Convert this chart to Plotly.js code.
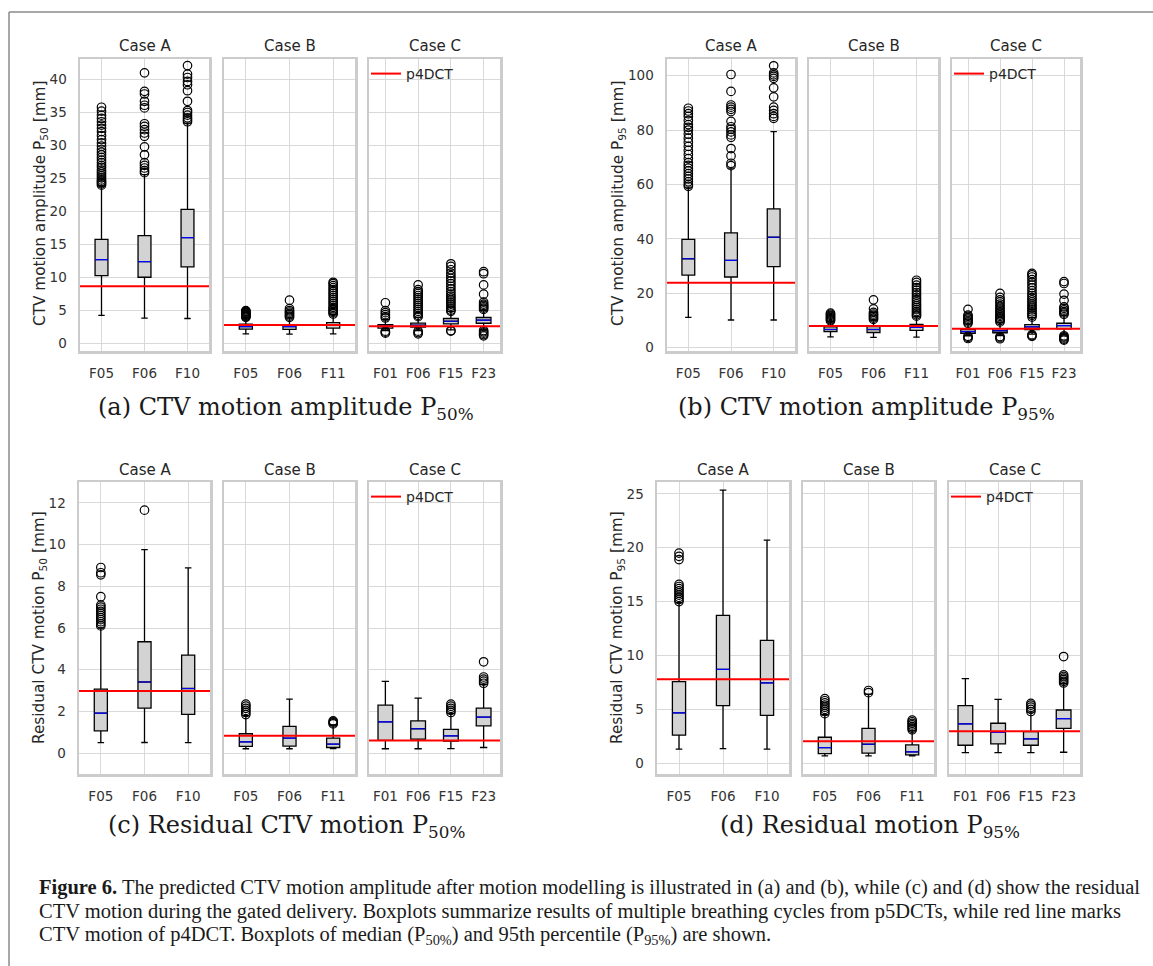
<!DOCTYPE html>
<html>
<head>
<meta charset="utf-8">
<script src="https://cdn.plot.ly/plotly-3.0.1.min.js"></script>
<style>
  html, body { margin: 0; padding: 0; background: #ffffff; }
  #chart { width: 1153px; height: 966px; }
</style>
</head>
<body>
<div id="chart"></div>
<script>
// ---------------- DATA ----------------
const caseNames = ['Case A', 'Case B', 'Case C'];
const labelsA = ['F05', 'F06', 'F10'];
const labelsB = ['F05', 'F06', 'F11'];
const labelsC = ['F01', 'F06', 'F15', 'F23'];
// Every statistic array lists the boxes in order: Case A (3), Case B (3), Case C (4)

// (a) CTV motion amplitude P50
const a_q1  = [10.3, 10.06, 11.62, 2.21, 2.16, 2.36, 2.36, 2.5, 3.0, 3.1];
const a_med = [12.73, 12.43, 16.05, 2.6, 2.6, 2.8, 2.67, 2.8, 3.4, 3.57];
const a_q3  = [15.8, 16.35, 20.33, 2.97, 2.9, 3.2, 2.9, 3.12, 3.82, 3.97];
const a_lo  = [4.28, 3.87, 3.82, 1.5, 1.46, 1.5, 2.0, 2.0, 2.1, 2.1];
const a_hi  = [23.9, 25.6, 33.4, 3.9, 3.9, 4.4, 3.7, 4.0, 4.9, 5.1];
const a_out = [
  [24.0, 24.2, 24.4, 24.6, 24.8, 25.1, 25.4, 25.7, 26.0, 26.3, 26.7, 27.0, 27.4, 27.8, 28.2, 28.6, 29.0, 29.4, 29.9, 30.4, 30.9, 31.5, 32.1, 32.6, 33.1, 33.6, 34.1, 34.6, 35.2, 35.8],
  [25.9, 26.2, 26.6, 27.0, 27.4, 28.6, 29.8, 31.4, 31.9, 32.4, 32.9, 33.3, 35.7, 36.1, 36.7, 37.8, 38.2, 41.0],
  [33.6, 33.9, 34.2, 34.6, 35.0, 35.3, 36.7, 38.3, 39.2, 39.7, 40.3, 40.8, 42.1],
  [4.0, 4.1, 4.2, 4.3, 4.4, 4.5, 4.6, 4.7, 4.8, 4.9, 5.0],
  [4.0, 4.2, 4.4, 4.6, 4.8, 5.0, 5.3, 6.6],
  [4.5, 4.7, 4.9, 5.1, 5.3, 5.5, 5.8, 6.1, 6.4, 6.7, 7.0, 7.3, 7.6, 7.9, 8.2, 8.5, 8.8, 9.1, 9.3],
  [1.6, 1.75, 1.9, 3.9, 4.1, 4.4, 4.7, 5.0, 6.2],
  [1.5, 1.7, 1.9, 4.1, 4.3, 4.6, 4.9, 5.2, 5.5, 5.8, 6.1, 6.4, 6.7, 7.0, 7.3, 7.6, 7.9, 8.2, 8.9],
  [1.9, 2.0, 4.9, 5.1, 5.4, 5.7, 6.0, 6.3, 6.6, 6.9, 7.2, 7.5, 7.9, 8.3, 8.7, 9.1, 9.5, 9.9, 10.3, 10.7, 11.2, 11.7, 12.1],
  [1.2, 1.4, 1.6, 1.8, 2.0, 5.2, 5.4, 5.6, 5.8, 6.0, 6.3, 7.5, 8.9, 10.6, 10.9]
];
const a_p4dct = [8.7, 2.85, 2.65];

// (b) CTV motion amplitude P95
const b_q1  = [26.7, 26.0, 29.8, 5.9, 5.6, 6.4, 5.3, 5.5, 6.7, 6.9];
const b_med = [32.7, 32.1, 40.6, 6.7, 6.7, 7.5, 5.9, 6.25, 7.7, 8.1];
const b_q3  = [39.8, 42.2, 51.0, 7.7, 7.8, 8.6, 6.7, 7.0, 8.5, 9.0];
const b_lo  = [11.15, 10.2, 10.2, 4.0, 3.8, 3.9, 4.4, 4.5, 5.0, 5.0];
const b_hi  = [59.0, 66.0, 79.4, 9.7, 10.2, 11.4, 8.8, 9.2, 11.1, 12.0];
const b_out = [
  [59.3, 60.0, 61.0, 62.0, 63.0, 64.0, 65.0, 66.0, 67.0, 68.0, 69.5, 71.0, 72.5, 74.0, 75.5, 77.0, 78.5, 80.0, 81.0, 82.0, 83.5, 85.0, 86.0, 87.0, 88.0],
  [66.9, 67.8, 70.5, 73.2, 77.3, 78.2, 79.3, 80.3, 81.2, 83.2, 86.8, 87.6, 88.4, 89.2, 94.2, 100.4],
  [84.3, 85.0, 86.0, 87.2, 88.4, 92.2, 95.5, 99.0, 99.7, 100.3, 101.0, 103.6],
  [9.9, 10.3, 10.7, 11.1, 11.5, 11.9, 12.3, 12.7],
  [10.4, 10.9, 11.4, 11.9, 12.4, 13.0, 14.3, 17.6],
  [11.6, 12.1, 12.7, 13.3, 14.0, 14.7, 15.4, 16.1, 16.9, 17.7, 18.5, 19.4, 20.3, 21.2, 22.1, 23.0, 24.0, 24.8],
  [3.4, 3.8, 4.2, 9.0, 9.5, 10.0, 10.5, 11.0, 11.5, 12.0, 14.1],
  [3.3, 3.7, 4.1, 9.5, 10.0, 10.5, 11.0, 11.5, 12.0, 12.6, 13.2, 13.8, 14.5, 15.2, 16.0, 16.8, 17.6, 18.5, 20.0],
  [4.2, 4.5, 4.8, 11.3, 11.9, 12.5, 13.2, 13.9, 14.6, 15.3, 16.0, 16.8, 17.6, 18.4, 19.2, 20.0, 21.0, 22.0, 23.0, 24.0, 25.0, 26.0, 26.8, 27.3],
  [2.8, 3.2, 3.6, 4.0, 4.4, 12.3, 12.8, 13.3, 13.9, 14.5, 15.0, 17.4, 19.7, 23.6, 24.3]
];
const b_p4dct = [23.9, 8.0, 7.0];

// (c) Residual CTV motion P50
const c_q1  = [1.07, 2.16, 1.86, 0.32, 0.34, 0.27, 0.61, 0.67, 0.58, 1.31];
const c_med = [1.92, 3.41, 3.1, 0.54, 0.72, 0.43, 1.5, 1.17, 0.83, 1.73];
const c_q3  = [3.07, 5.34, 4.7, 0.93, 1.28, 0.72, 2.3, 1.55, 1.14, 2.16];
const c_lo  = [0.5, 0.51, 0.5, 0.21, 0.21, 0.22, 0.21, 0.21, 0.22, 0.27];
const c_hi  = [6.0, 9.76, 8.88, 1.8, 2.59, 1.35, 3.44, 2.64, 1.9, 3.3];
const c_out = [
  [6.1, 6.2, 6.3, 6.4, 6.5, 6.6, 6.7, 6.8, 6.9, 7.0, 7.1, 7.5, 8.55, 8.65, 8.9],
  [11.65],
  [],
  [1.85, 1.95, 2.05, 2.15, 2.25, 2.35],
  [],
  [1.4, 1.45, 1.5, 1.55],
  [],
  [],
  [1.95, 2.05, 2.15, 2.25, 2.35],
  [3.35, 3.45, 3.55, 3.65, 4.38]
];
const c_p4dct = [2.98, 0.83, 0.61];

// (d) Residual motion P95
const d_q1  = [2.6, 5.35, 4.45, 0.9, 0.93, 0.77, 1.67, 1.79, 1.67, 3.24];
const d_med = [4.67, 8.71, 7.45, 1.45, 1.76, 1.05, 3.65, 2.87, 2.26, 4.14];
const d_q3  = [7.57, 13.72, 11.4, 2.41, 3.24, 1.7, 5.35, 3.71, 2.94, 4.94];
const d_lo  = [1.3, 1.36, 1.3, 0.68, 0.68, 0.68, 0.99, 0.99, 0.99, 1.02];
const d_hi  = [14.9, 25.34, 20.7, 4.5, 6.4, 3.0, 7.85, 5.93, 4.75, 7.4];
const d_out = [
  [15.0, 15.2, 15.4, 15.6, 15.8, 16.0, 16.2, 16.4, 16.6, 18.9, 19.2, 19.5],
  [],
  [],
  [4.6, 4.8, 5.0, 5.2, 5.4, 5.6, 5.8, 6.0],
  [6.55, 6.75],
  [3.1, 3.25, 3.4, 3.55, 3.7, 3.85, 4.0],
  [],
  [],
  [4.8, 5.0, 5.2, 5.4, 5.55],
  [7.45, 7.6, 7.75, 7.9, 8.05, 8.2, 9.9]
];
const d_p4dct = [7.79, 2.04, 2.97];

const legendName = 'p4DCT';
const figureCaptionLines = [
  '<b>Figure 6.</b> The predicted CTV motion amplitude after motion modelling is illustrated in (a) and (b), while (c) and (d) show the residual',
  'CTV motion during the gated delivery. Boxplots summarize results of multiple breathing cycles from p5DCTs, while red line marks',
  'CTV motion of p4DCT. Boxplots of median (P<sub>50%</sub>) and 95th percentile (P<sub>95%</sub>) are shown.'
];

// ---------------- LAYOUT CONFIG ----------------
const W = 1153, H = 966;
const px = v => v / W;
const py = v => 1 - v / H;
const caseLabels = [labelsA, labelsB, labelsC];

const panels = [
  { stats: [a_q1, a_med, a_q3, a_lo, a_hi], out: a_out, p4: a_p4dct,
    range: [-1.1, 43.1], dtick: 5,
    ytitle: 'CTV motion amplitude P<sub>50</sub> [mm]',
    caption: '(a) CTV motion amplitude P<sub>50%</sub>',
    xdom: [[80, 209], [224, 355], [369, 500]], ydom: [59, 351],
    titleY: 46, ytitleX: 41, ytitleY: 204, capX: 286, capY: 408 },
  { stats: [b_q1, b_med, b_q3, b_lo, b_hi], out: b_out, p4: b_p4dct,
    range: [-1.2, 106.1], dtick: 20,
    ytitle: 'CTV motion amplitude P<sub>95</sub> [mm]',
    caption: '(b) CTV motion amplitude P<sub>95%</sub>',
    xdom: [[667, 795], [809, 938], [952, 1080]], ydom: [59, 351],
    titleY: 46, ytitleX: 619, ytitleY: 204, capX: 866, capY: 408 },
  { stats: [c_q1, c_med, c_q3, c_lo, c_hi], out: c_out, p4: c_p4dct,
    range: [-1.0, 13.0], dtick: 2,
    ytitle: 'Residual CTV motion P<sub>50</sub> [mm]',
    caption: '(c) Residual CTV motion P<sub>50%</sub>',
    xdom: [[79, 210], [224, 355], [369, 500]], ydom: [482, 774],
    titleY: 470, ytitleX: 40, ytitleY: 628, capX: 286, capY: 826 },
  { stats: [d_q1, d_med, d_q3, d_lo, d_hi], out: d_out, p4: d_p4dct,
    range: [-1.0, 26.1], dtick: 5,
    ytitle: 'Residual CTV motion P<sub>95</sub> [mm]',
    caption: '(d) Residual motion P<sub>95%</sub>',
    xdom: [[657, 789], [803, 934], [949, 1080]], ydom: [482, 774],
    titleY: 470, ytitleX: 618, ytitleY: 628, capX: 870, capY: 826 }
];

const sans = 'DejaVu Sans, Noto Sans, sans-serif';
const tickFont = { family: sans, size: 13.5, color: '#333333' };
const gridColor = '#d9d9d9';
const frameColor = '#cccccc';

const traces = [];
const layout = {
  width: W, height: H,
  margin: { l: 0, r: 0, t: 0, b: 0 },
  paper_bgcolor: '#ffffff', plot_bgcolor: '#ffffff',
  boxmode: 'overlay',
  showlegend: true,
  annotations: [], shapes: []
};

const caseStart = [0, 3, 6];

panels.forEach((p, pi) => {
  for (let ci = 0; ci < 3; ci++) {
    const n = pi * 3 + ci + 1;
    const xa = 'x' + n, ya = 'y' + n;
    const labels = caseLabels[ci];
    const pos = labels.map((_, i) => i + 1);
    const s0 = caseStart[ci], s1 = s0 + labels.length;
    const sl = arr => arr.slice(s0, s1);
    const q1 = sl(p.stats[0]), med = sl(p.stats[1]), q3 = sl(p.stats[2]);
    const lo = sl(p.stats[3]), hi = sl(p.stats[4]);
    const outs = p.out.slice(s0, s1);
    const bw = labels.length === 4 ? 0.45 : 0.3;
    const xr = [0.5, labels.length + 0.5];

    // boxes
    traces.push({
      type: 'box', orientation: 'v', xaxis: xa, yaxis: ya,
      x: pos, q1: q1, median: med, q3: q3, lowerfence: lo, upperfence: hi,
      width: bw, whiskerwidth: 0.5, boxpoints: false,
      fillcolor: '#d3d3d3', line: { color: '#000000', width: 1.3 },
      hoverinfo: 'skip', showlegend: false
    });
    // blue median lines
    traces.push({
      type: 'box', orientation: 'v', xaxis: xa, yaxis: ya,
      x: pos, q1: med, median: med, q3: med, lowerfence: med, upperfence: med,
      width: bw, whiskerwidth: 0, boxpoints: false,
      fillcolor: 'rgba(0,0,0,0)', line: { color: '#0000ff', width: 1.2 },
      hoverinfo: 'skip', showlegend: false
    });
    // outliers
    outs.forEach((vals, i) => {
      if (!vals.length) return;
      traces.push({
        type: 'scatter', mode: 'markers', xaxis: xa, yaxis: ya,
        x: vals.map(() => pos[i]), y: vals,
        marker: { symbol: 'circle-open', size: 8.5, color: '#000000', line: { width: 1.2 } },
        hoverinfo: 'skip', showlegend: false
      });
    });
    // p4DCT red line
    traces.push({
      type: 'scatter', mode: 'lines', xaxis: xa, yaxis: ya,
      x: xr, y: [p.p4[ci], p.p4[ci]],
      line: { color: '#ff0000', width: 2 },
      name: legendName,
      legend: pi === 0 ? 'legend' : 'legend' + (pi + 1),
      showlegend: ci === 2, hoverinfo: 'skip'
    });

    const xKey = 'xaxis' + (n === 1 ? '' : n);
    const yKey = 'yaxis' + (n === 1 ? '' : n);
    layout[xKey] = {
      domain: [px(p.xdom[ci][0]), px(p.xdom[ci][1])],
      anchor: ya, range: xr,
      tickmode: 'array', tickvals: pos, ticktext: labels,
      showgrid: true, gridcolor: gridColor, gridwidth: 1,
      zeroline: false, showline: true, mirror: true,
      linecolor: frameColor, linewidth: 2.5,
      ticks: '', ticklabelstandoff: 8, tickfont: tickFont, fixedrange: true
    };
    layout[yKey] = {
      domain: [py(p.ydom[1]), py(p.ydom[0])],
      anchor: xa, range: p.range,
      tickmode: 'linear', tick0: 0, dtick: p.dtick,
      showticklabels: ci === 0,
      showgrid: true, gridcolor: gridColor, gridwidth: 1,
      zeroline: false, showline: true, mirror: true,
      linecolor: frameColor, linewidth: 2.5,
      ticks: '', ticklabelstandoff: 8, tickfont: tickFont, fixedrange: true
    };

    // case title
    layout.annotations.push({
      text: caseNames[ci], xref: 'paper', yref: 'paper',
      x: px((p.xdom[ci][0] + p.xdom[ci][1]) / 2), y: py(p.titleY),
      xanchor: 'center', yanchor: 'middle', showarrow: false,
      font: { family: sans, size: 15, color: '#262626' }
    });
  }
  // legend inside Case C
  const lgKey = pi === 0 ? 'legend' : 'legend' + (pi + 1);
  layout[lgKey] = {
    x: px(p.xdom[2][0] - 3), y: py(p.ydom[0] - 1),
    xanchor: 'left', yanchor: 'top',
    bgcolor: 'rgba(0,0,0,0)', borderwidth: 0,
    font: { family: sans, size: 14, color: '#262626' },
    itemwidth: 30, tracegroupgap: 0
  };
  // y title
  layout.annotations.push({
    text: p.ytitle, xref: 'paper', yref: 'paper',
    x: px(p.ytitleX), y: py(p.ytitleY), textangle: -90,
    xanchor: 'center', yanchor: 'middle', showarrow: false,
    font: { family: sans, size: 15.3, color: '#262626' }
  });
  // sub-caption
  layout.annotations.push({
    text: p.caption, xref: 'paper', yref: 'paper',
    x: px(p.capX), y: py(p.capY),
    xanchor: 'center', yanchor: 'middle', showarrow: false,
    font: { family: 'DejaVu Serif, Liberation Serif, serif', size: 24, color: '#1a1a1a' }
  });
});

// figure caption, one annotation per printed line
const capLineY = [887, 911, 935];
figureCaptionLines.forEach((t, i) => {
  layout.annotations.push({
    text: t, xref: 'paper', yref: 'paper', x: px(37), y: py(capLineY[i]),
    xanchor: 'left', yanchor: 'middle', align: 'left', showarrow: false,
    font: { family: 'Liberation Serif, serif', size: 20.5, color: '#1a1a1a' }
  });
});

// outer figure frame (top and left edges)
layout.shapes.push(
  { type: 'line', xref: 'paper', yref: 'paper', x0: px(9), x1: px(W + 5), y0: py(12), y1: py(12),
    line: { color: '#8a8a8a', width: 1.5 } },
  { type: 'line', xref: 'paper', yref: 'paper', x0: px(9), x1: px(9), y0: py(12), y1: py(H + 5),
    line: { color: '#8a8a8a', width: 1.5 } }
);

Plotly.newPlot('chart', traces, layout, { displayModeBar: false, staticPlot: true });
</script>
</body>
</html>
